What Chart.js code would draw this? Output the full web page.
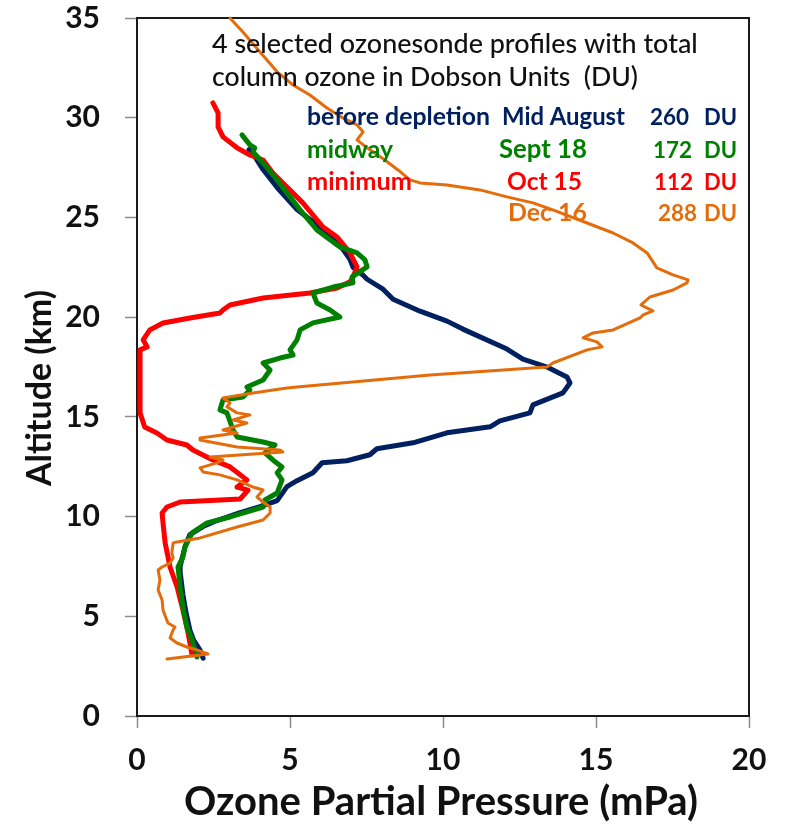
<!DOCTYPE html>
<html>
<head>
<meta charset="utf-8">
<script src="https://cdn.jsdelivr.net/npm/chart.js@4/dist/chart.umd.min.js"></script>
<style>
  html, body { margin: 0; padding: 0; background: #fff; }
  #wrap { position: relative; width: 788px; height: 835px; }
</style>
</head>
<body>
<div id="wrap"><canvas id="c" width="788" height="835"></canvas></div>
<script>
// ---------------- DATA ----------------
const xTickValues = [0, 5, 10, 15, 20];
const yTickValues = [0, 5, 10, 15, 20, 25, 30, 35];

const xTitle = 'Ozone Partial Pressure (mPa)';
const yTitle = 'Altitude (km)';
const noteLines = ['4 selected ozonesonde profiles with total', 'column ozone in Dobson Units  (DU)'];

const seriesNames = ['before depletion', 'midway', 'minimum', ''];
const seriesDates = ['Mid August', 'Sept 18', 'Oct 15', 'Dec 16'];
const seriesDU = ['260', '172', '112', '288'];

// profiles: [ozone partial pressure (mPa), altitude (km)]
const augProfile = [
  [2.16,2.9],[2.06,3.3],[1.85,3.8],[1.73,4.3],[1.60,5.2],[1.50,6.1],[1.41,7.2],[1.41,7.5],[1.57,8.5],
  [1.73,9.1],[2.16,9.5],[2.61,9.8],[3.37,10.2],[4.02,10.5],[4.58,10.8],[4.90,11.5],[5.23,11.8],
  [5.75,12.2],[6.05,12.7],[6.86,12.8],[7.61,13.1],[7.84,13.4],[9.02,13.7],[10.13,14.2],[11.54,14.5],
  [11.86,14.8],[12.84,15.2],[12.94,15.6],[13.92,16.2],[14.15,16.7],[14.05,17.0],[13.40,17.5],
  [12.61,17.9],[12.09,18.4],[10.65,19.4],[10.13,19.8],[9.25,20.3],[8.37,20.9],[8.04,21.4],
  [7.52,21.9],[7.39,22.1],[7.06,22.5],[6.96,22.9],[6.73,23.4],[6.08,24.4],[5.23,25.4],[4.58,26.5],
  [4.12,27.4],[3.79,28.2],[3.66,28.4]
];
const sepProfile = [
  [1.96,2.96],[1.80,3.81],[1.63,4.46],[1.50,5.47],[1.41,6.47],[1.34,7.47],[1.50,7.97],[1.57,8.48],
  [1.80,9.18],[2.29,9.68],[3.04,9.98],[4.12,10.48],[4.18,10.83],[4.58,11.18],[4.74,11.84],[4.58,12.19],
  [4.74,12.49],[4.44,12.84],[4.18,13.19],[4.51,13.59],[4.12,13.74],[3.27,13.99],[3.14,14.34],
  [2.94,15.20],[2.71,15.35],[2.81,15.85],[3.46,16.00],[3.69,16.35],[3.59,16.50],[4.12,16.85],
  [4.35,17.35],[4.12,17.70],[4.67,17.95],[5.10,18.10],[5.00,18.36],[5.23,18.86],[5.33,19.36],
  [5.75,19.71],[6.63,20.01],[6.31,20.36],[5.88,20.71],[5.75,21.21],[6.41,21.51],[7.06,21.72],
  [7.03,22.02],[7.52,22.52],[7.45,22.87],[7.19,23.22],[6.63,23.52],[5.88,24.37],[5.33,25.38],
  [4.90,26.23],[4.58,26.88],[4.12,27.73],[3.79,28.29],[3.85,28.49],[3.69,28.64],[3.43,29.14]
];
const octProfile = [
  [1.80,3.06],[1.67,4.16],[1.50,5.32],[1.31,6.47],[1.08,7.47],[0.92,8.68],[0.85,9.68],[0.82,10.18],
  [0.98,10.48],[1.41,10.73],[3.37,10.88],[3.63,11.33],[3.27,11.48],[3.59,11.84],[3.04,12.49],
  [2.48,12.84],[1.83,13.34],[1.63,13.59],[0.98,13.84],[0.65,14.19],[0.25,14.49],[0.10,15.20],
  [0.10,16.85],[0.10,18.36],[0.33,18.51],[0.20,18.86],[0.42,19.36],[0.85,19.71],[1.73,19.96],
  [2.71,20.21],[2.81,20.36],[3.04,20.61],[4.12,20.96],[5.65,21.21],[6.54,21.46],[6.96,21.77],
  [7.06,22.02],[7.19,22.52],[6.96,23.22],[6.54,24.02],[6.08,24.52],[5.42,25.73],[4.90,26.53],
  [4.44,27.23],[4.12,27.88],[3.69,28.13],[3.27,28.49],[2.81,29.04],[2.65,29.54],[2.65,30.24],[2.48,30.74]
];
const decProfile = [
  [0.98,2.86],[2.32,3.11],[1.96,3.31],[1.63,3.46],[1.31,3.66],[1.08,3.91],[1.18,4.31],[1.24,4.46],
  [1.01,4.66],[0.85,5.32],[0.82,5.82],[0.69,6.32],[0.75,6.82],[0.69,7.32],[0.82,7.47],[1.08,7.67],
  [1.18,7.92],[1.14,8.17],[1.18,8.68],[1.31,8.73],[2.06,8.93],[3.27,9.48],[4.12,9.83],[4.35,10.18],
  [4.35,10.48],[4.12,10.73],[3.92,10.98],[4.12,11.33],[3.79,11.48],[3.27,11.84],[2.71,12.09],
  [2.16,12.24],[2.06,12.44],[2.61,12.69],[2.81,12.84],[2.39,12.99],[4.77,13.24],[4.67,13.34],
  [3.27,13.49],[2.06,13.84],[2.06,13.94],[3.27,14.19],[2.81,14.34],[3.59,14.69],[3.14,14.84],
  [3.69,15.10],[3.27,15.20],[2.94,15.50],[3.04,15.70],[2.81,15.95],[3.79,16.20],[4.90,16.45],
  [5.23,16.50],[9.58,17.10],[13.40,17.50],[13.59,17.70],[14.71,18.36],[15.20,18.51],[15.03,18.76],
  [14.58,18.96],[14.90,19.21],[15.56,19.36],[16.44,19.96],[16.54,20.11],[16.86,20.31],[16.47,20.61],
  [16.76,21.01],[17.52,21.36],[17.97,21.72],[18.01,21.87],[17.52,22.12],[16.99,22.47],[16.67,23.22],
  [16.21,23.72],[15.56,24.22],[14.71,24.72],[13.59,25.38],[12.94,25.73],[12.09,26.03],[11.21,26.38],
  [10.13,26.63],[9.25,26.73],[8.92,26.88],[8.53,27.38],[8.10,27.88],[7.52,28.49],[7.19,28.89],
  [7.39,29.29],[7.19,29.64],[6.73,29.99],[6.21,30.49],[5.65,31.14],[5.10,31.64],[4.58,32.30],
  [4.02,33.30],[3.46,34.30],[3.04,35.00]
];

// ---------------- STYLE ----------------
const COLORS = ['#002060', '#008000', '#FF0000', '#E46C0A'];
const FONT = 'Lato, "Open Sans", sans-serif';

const toPts = arr => arr.map(p => ({ x: p[0], y: p[1] }));

function fitText(ctx, text, x, y, width, weight, color, rotate) {
  ctx.save();
  ctx.font = weight + ' 100px ' + FONT;
  const w = ctx.measureText(text).width;
  const size = 100 * width / w;
  ctx.font = weight + ' ' + size.toFixed(2) + 'px ' + FONT;
  ctx.fillStyle = color;
  ctx.textBaseline = 'alphabetic';
  ctx.textAlign = 'left';
  ctx.translate(x, y);
  if (rotate) ctx.rotate(-Math.PI / 2);
  ctx.fillText(text, 0, 0);
  ctx.restore();
}

const framePlugin = {
  id: 'frame',
  beforeDatasetsDraw(chart) {
    const { ctx, chartArea: a } = chart;
    ctx.save();
    ctx.strokeStyle = '#1a1a1a';
    ctx.lineWidth = 2;
    ctx.strokeRect(a.left, a.top, a.right - a.left, a.bottom - a.top);
    ctx.restore();
  },
  afterDraw(chart) {
    const ctx = chart.ctx;
    // note
    fitText(ctx, noteLines[0], 212, 53, 486, '500', '#111');
    fitText(ctx, noteLines[1], 212, 86, 426, '500', '#111');
    // legend table
    const rows = [125, 158, 190, 221];
    const nameW = [183, 86, 105, 0];
    const dateX = [502, 499, 507, 508];
    const dateW = [123, 88, 75, 79];
    const duX = [650, 653, 654, 658];
    for (let i = 0; i < 4; i++) {
      const c = COLORS[i];
      if (seriesNames[i]) fitText(ctx, seriesNames[i], 307, rows[i], nameW[i], 'bold', c);
      fitText(ctx, seriesDates[i], dateX[i], rows[i], dateW[i], 'bold', c);
      fitText(ctx, seriesDU[i], duX[i], rows[i], 39, 'bold', c);
      fitText(ctx, 'DU', 704, rows[i], 33, 'bold', c);
    }
    // axis titles
    fitText(ctx, xTitle, 184, 815, 514, 'bold', '#111');
    fitText(ctx, yTitle, 51, 486, 196, 'bold', '#111', true);
  }
};

const mk = (label, pts, color, width, order) => ({
  label, data: toPts(pts), borderColor: color, backgroundColor: color,
  borderWidth: width, showLine: true, pointRadius: 0, pointHoverRadius: 0,
  tension: 0, borderJoinStyle: 'round', borderCapStyle: 'round', order, clip: 4
});

const noPad = s => { s.paddingTop = 0; s.paddingBottom = 0; s.paddingLeft = 0; s.paddingRight = 0; };

new Chart(document.getElementById('c'), {
  type: 'scatter',
  data: {
    datasets: [
      mk(seriesDates[3], decProfile, COLORS[3], 3, 0),
      mk(seriesDates[1], sepProfile, COLORS[1], 5, 1),
      mk(seriesDates[2], octProfile, COLORS[2], 5, 2),
      mk(seriesDates[0], augProfile, COLORS[0], 5, 3)
    ]
  },
  options: {
    responsive: false,
    animation: false,
    layout: { padding: { top: 18, right: 39, left: 0, bottom: 0 } },
    plugins: { legend: { display: false }, tooltip: { enabled: false } },
    scales: {
      x: {
        type: 'linear', min: 0, max: 20,
        afterBuildTicks: s => { s.ticks = xTickValues.map(v => ({ value: v })); },
        afterFit: s => { s.height = 119; noPad(s); },
        border: { display: false },
        grid: { drawOnChartArea: false, drawTicks: true, tickLength: 12, tickColor: '#8c8c8c', tickWidth: 1.5 },
        ticks: { color: '#111', font: { family: FONT, size: 30, weight: 'bold' }, padding: 14, maxRotation: 0 }
      },
      y: {
        type: 'linear', min: 0, max: 35,
        afterBuildTicks: s => { s.ticks = yTickValues.map(v => ({ value: v })); },
        afterFit: s => { s.width = 137; noPad(s); },
        border: { display: false },
        grid: { drawOnChartArea: false, drawTicks: true, tickLength: 12, tickColor: '#8c8c8c', tickWidth: 1.5 },
        ticks: { color: '#111', font: { family: FONT, size: 30, weight: 'bold' }, padding: 25 }
      }
    }
  },
  plugins: [framePlugin]
});
</script>
</body>
</html>
